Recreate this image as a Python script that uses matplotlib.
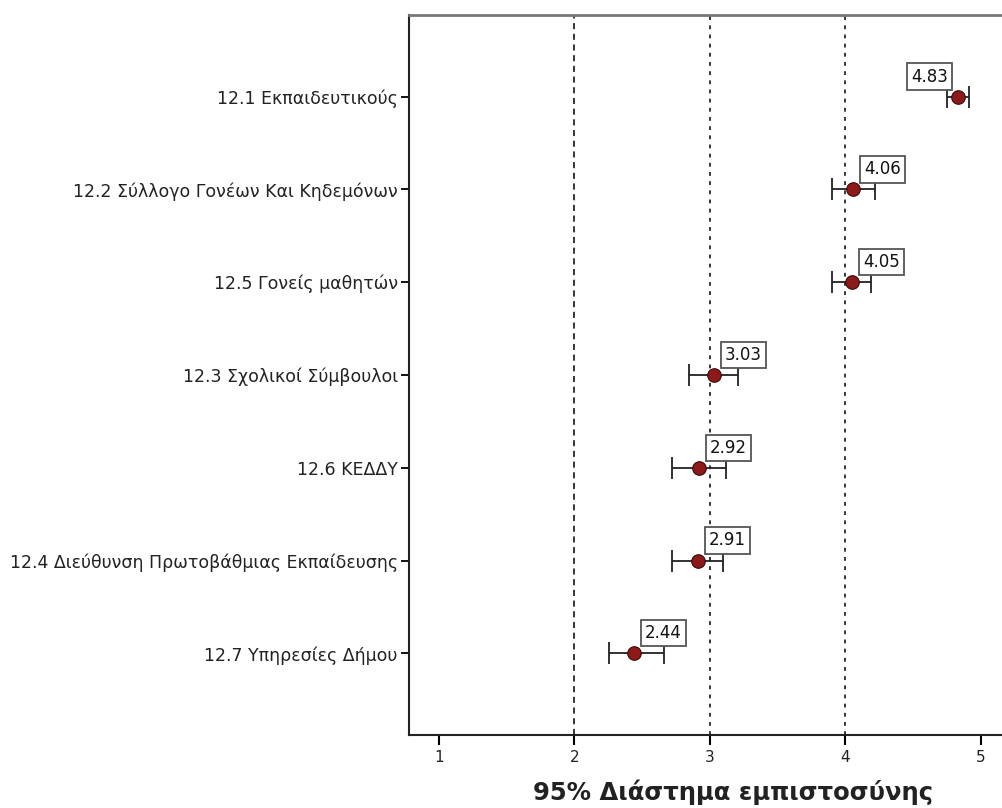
import matplotlib
matplotlib.use("Agg")
import matplotlib.pyplot as plt

categories = [
    "12.1 Εκπαιδευτικούς",
    "12.2 Σύλλογο Γονέων Και Κηδεμόνων",
    "12.5 Γονείς μαθητών",
    "12.3 Σχολικοί Σύμβουλοι",
    "12.6 ΚΕΔΔΥ",
    "12.4 Διεύθυνση Πρωτοβάθμιας Εκπαίδευσης",
    "12.7 Υπηρεσίες Δήμου",
]
means = [4.83, 4.06, 4.05, 3.03, 2.92, 2.91, 2.44]
ci_low = [4.75, 3.90, 3.90, 2.85, 2.72, 2.72, 2.26]
ci_high = [4.91, 4.22, 4.19, 3.21, 3.12, 3.10, 2.66]
ref_lines = [2, 3, 4]
xticks = [1, 2, 3, 4, 5]

plt.rcParams['font.family'] = ['DejaVu Sans']

fig = plt.figure(figsize=(10.02, 8.08), dpi=100)
# axes extends slightly past the right edge of the figure (clipped, as in the reference)
ax = fig.add_axes([0.408, 0.0903, 0.6467, 0.8911])

ypos = list(range(len(categories)))
ax.set_xlim(0.78, 5.56)
ax.set_ylim(len(categories) - 1 + 0.88, -0.88)

for i, x in enumerate(ref_lines):
    ls = (0, (4, 3)) if i == 0 else (0, (2.5, 3.5))
    ax.axvline(x, color='black', lw=1.1, ls=ls, zorder=1)

xerr = [[m - l for m, l in zip(means, ci_low)], [h - m for m, h in zip(means, ci_high)]]
ax.errorbar(means, ypos, xerr=xerr, fmt='none', ecolor='#222222', elinewidth=1.3,
            capsize=8, capthick=1.3, zorder=2)
ax.scatter(means, ypos, s=95, color='#8b1a1a', edgecolor='#3a0a0a', linewidth=0.8, zorder=3)

for i, (m, y) in enumerate(zip(means, ypos)):
    if m > 4.5:
        off, ha = (-7, 8), 'right'
    else:
        off, ha = (8, 8), 'left'
    ax.annotate(f"{m:.2f}", (m, y), xytext=off, textcoords='offset points',
                ha=ha, va='bottom', fontsize=12, color='#111111',
                bbox=dict(boxstyle='square,pad=0.25', fc='white', ec='#555555', lw=1.3),
                zorder=4)

ax.set_yticks(ypos)
ax.set_yticklabels(categories, fontsize=12.5, color='#222222')
ax.set_xticks(xticks)
ax.set_xticklabels([str(t) for t in xticks], fontsize=11, color='#222222')
ax.tick_params(axis='y', direction='out', length=6, width=1.3, pad=2)
ax.tick_params(axis='x', direction='out', length=7, width=1.5, pad=4)

ax.spines['right'].set_visible(False)
ax.spines['top'].set_color('#777777')
ax.spines['top'].set_linewidth(2)
for s in ['left', 'bottom']:
    ax.spines[s].set_linewidth(1.5)
    ax.spines[s].set_color('#222222')

ax.set_xlabel("95% Διάστημα εμπιστοσύνης", fontsize=17.5, fontweight='bold',
              color='#222222', labelpad=10)

fig.savefig("out.png", dpi=100)
